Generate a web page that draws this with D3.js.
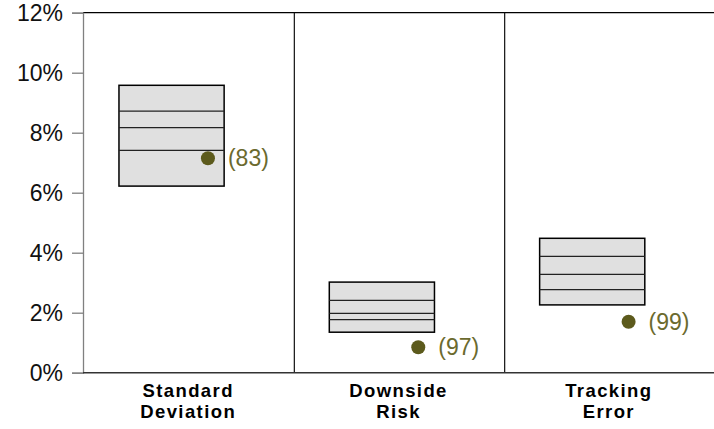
<!DOCTYPE html>
<html><head><meta charset="utf-8">
<script src="https://cdn.jsdelivr.net/npm/d3@7"></script>
<style>html,body{margin:0;padding:0;background:#fff;}</style>
</head><body>
<svg id="c" width="714" height="429"></svg>
<script>
const categories = [["Standard","Deviation"],["Downside","Risk"],["Tracking","Error"]];
const p95 = [9.58, 3.02, 4.48];
const p75 = [8.72, 2.41, 3.88];
const p50 = [8.17, 1.98, 3.28];
const p25 = [7.41, 1.77, 2.77];
const p05 = [6.22, 1.35, 2.26];
const fund = [7.15, 0.85, 1.70];
const ranks = ["(83)", "(97)", "(99)"];
const yTicks = [0, 2, 4, 6, 8, 10, 12];

const svg = d3.select("#c");
const mLeft = 83, mRight = 714, mTop = 12.7, mBottom = 372.7;
const x = d3.scaleBand().domain(d3.range(categories.length)).range([mLeft, mRight]);
const y = d3.scaleLinear().domain([0, 12]).range([mBottom, mTop]);
const font = "'Liberation Sans', Arial, sans-serif";

// top line
svg.append("line").attr("x1", mLeft).attr("x2", mRight).attr("y1", y(12)).attr("y2", y(12))
  .attr("stroke", "#000").attr("stroke-width", 1.3);
// dividers
x.domain().slice(1).forEach(i => {
  svg.append("line").attr("x1", x(i)+1).attr("x2", x(i)+1).attr("y1", y(12)).attr("y2", y(0))
    .attr("stroke", "#111").attr("stroke-width", 1.2);
});

// y axis
const yAxis = d3.axisLeft(y).tickValues(yTicks).tickFormat(d => d + "%").tickSize(11).tickPadding(9);
const ga = svg.append("g").attr("transform", `translate(${mLeft},0)`).call(yAxis);
ga.select(".domain").attr("stroke", "#808080").attr("stroke-width", 1.3);
ga.selectAll(".tick line").attr("stroke", "#808080").attr("stroke-width", 1.3);
ga.selectAll(".tick text").attr("font-family", font).attr("font-size", 23).attr("fill", "#111");

// bottom line
svg.append("line").attr("x1", mLeft).attr("x2", mRight).attr("y1", y(0)).attr("y2", y(0))
  .attr("stroke", "#333").attr("stroke-width", 1.5);

const bw = x.bandwidth();
const boxL = i => x(i) + bw * 0.171;
const boxW = bw * 0.5;

const g = svg.append("g");
categories.forEach((c, i) => {
  g.append("rect").attr("x", boxL(i)).attr("y", y(p95[i])).attr("width", boxW)
    .attr("height", y(p05[i]) - y(p95[i])).attr("fill", "#e0e0e0").attr("stroke", "#000").attr("stroke-width", 1.5);
  [p75[i], p50[i], p25[i]].forEach(v => {
    g.append("line").attr("x1", boxL(i)).attr("x2", boxL(i) + boxW).attr("y1", y(v)).attr("y2", y(v))
      .attr("stroke", "#222").attr("stroke-width", 1.2);
  });
  const cx = x(i) + bw * 0.594;
  g.append("circle").attr("cx", cx).attr("cy", y(fund[i])).attr("r", 7).attr("fill", "#5c5a1c");
  g.append("text").attr("x", cx + 20).attr("y", y(fund[i])).attr("dy", "0.36em")
    .attr("font-family", font).attr("font-size", 23).attr("fill", "#6b6a2e").text(ranks[i]);
  c.forEach((line, k) => {
    g.append("text").attr("x", x(i) + bw / 2).attr("y", 397 + k * 21).attr("text-anchor", "middle")
      .attr("font-family", font).attr("font-size", 18.5).attr("font-weight", "bold").attr("fill", "#000")
      .attr("letter-spacing", 1.4).text(line);
  });
});
</script>
</body></html>
